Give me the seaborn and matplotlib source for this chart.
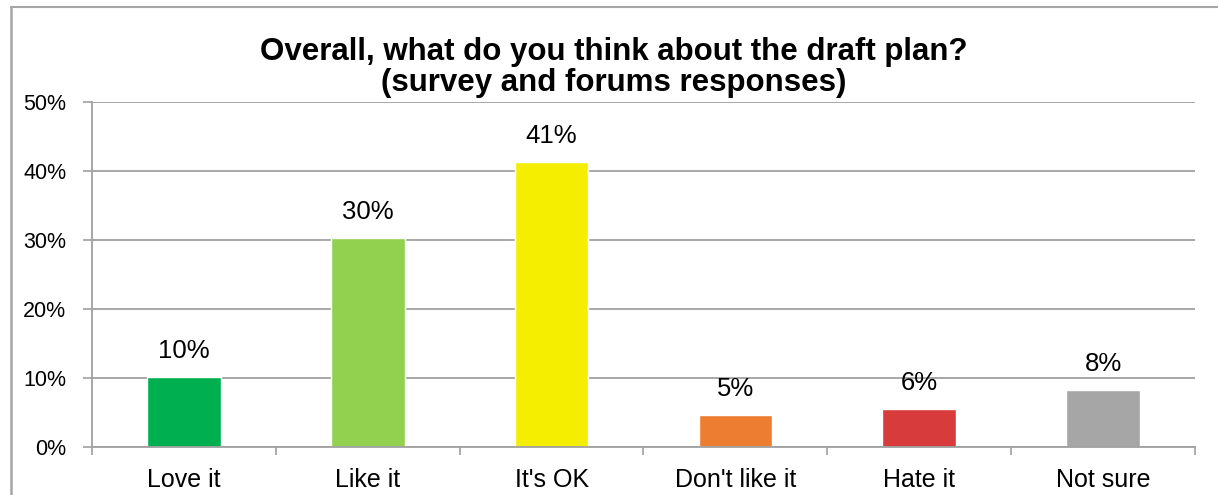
import matplotlib
matplotlib.use("Agg")
import matplotlib.pyplot as plt
import seaborn as sns
import pandas as pd
from matplotlib.lines import Line2D
from matplotlib.ticker import FixedLocator

categories = ["Love it", "Like it", "It's OK", "Don't like it", "Hate it", "Not sure"]
values = [10.1, 30.3, 41.3, 4.6, 5.5, 8.3]
labels = ["10%", "30%", "41%", "5%", "6%", "8%"]
colors = ["#00B050", "#92D050", "#F5EE00", "#ED7D31", "#D83B3B", "#A6A6A6"]
yticks = [0, 10, 20, 30, 40, 50]
ytick_labels = ["0%", "10%", "20%", "30%", "40%", "50%"]
title = "Overall, what do you think about the draft plan?\n(survey and forums responses)"

sns.set_theme(style="white")
plt.rcParams['font.family'] = ['Liberation Sans', 'DejaVu Sans']

df = pd.DataFrame({"cat": categories, "val": values})

W, H = 1218, 495
fig = plt.figure(figsize=(W / 100, H / 100), dpi=100)
ax = fig.add_axes([92 / W, 1 - 447 / H, (1195 - 92) / W, (447 - 102) / H])

sns.barplot(data=df, x="cat", y="val", hue="cat", palette=colors, width=0.4,
            legend=False, ax=ax, saturation=1)

grid_c = "#A0A0A0"
ax.set_ylim(0, 50)
ax.set_xlim(-0.5, len(categories) - 0.5)
ax.set_yticks(yticks)
ax.set_yticklabels(ytick_labels, fontsize=15.5, color="black")
ax.yaxis.grid(True, color=grid_c, linewidth=1.3)
ax.set_axisbelow(True)
ax.set_xlabel("")
ax.set_ylabel("")
ax.tick_params(axis="x", length=0, labelsize=18, pad=15, labelcolor="black")
ax.tick_params(axis="y", length=6.5, width=1.2, color=grid_c, pad=12, direction="out", left=True)
ax.xaxis.set_minor_locator(FixedLocator([i - 0.5 for i in range(len(categories) + 1)]))
ax.tick_params(axis="x", which="minor", length=6, width=1.2, color=grid_c, direction="out", bottom=True)

for s in ["top", "right"]:
    ax.spines[s].set_visible(False)
for s in ["left", "bottom"]:
    ax.spines[s].set_color(grid_c)
    ax.spines[s].set_linewidth(1.3)

for i, (v, lab) in enumerate(zip(values, labels)):
    ax.annotate(lab, (i, v), xytext=(0, 10), textcoords="offset points",
                ha="center", va="bottom", fontsize=18.5, color="black")

fig.text(614 / W, 1 - 91 / H, title,
         ha="center", va="baseline", fontsize=22.5, fontweight="bold", color="black",
         linespacing=1.05)

frame_c = "#A6A6A6"
fig.add_artist(Line2D([11 / W, 1], [1 - 7 / H, 1 - 7 / H], transform=fig.transFigure,
                      color=frame_c, linewidth=1.5))
fig.add_artist(Line2D([11 / W, 11 / W], [0, 1 - 7 / H], transform=fig.transFigure,
                      color=frame_c, linewidth=1.8))

fig.savefig("out.png", dpi=100)
